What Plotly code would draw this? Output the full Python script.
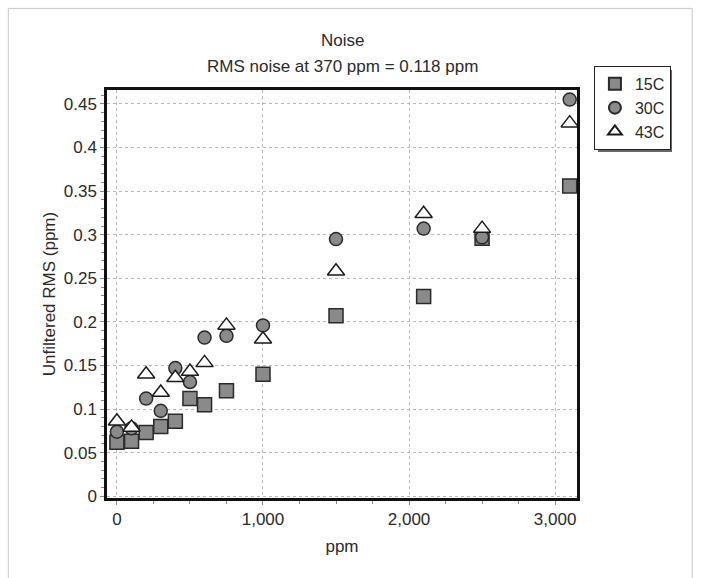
import plotly.graph_objects as go

x15 = [0, 100, 200, 300, 400, 500, 600, 750, 1000, 1500, 2100, 2500, 3100]
y15 = [0.062, 0.063, 0.073, 0.080, 0.086, 0.112, 0.105, 0.121, 0.140, 0.207, 0.229, 0.296, 0.356]

x30 = [0, 100, 200, 300, 400, 500, 600, 750, 1000, 1500, 2100, 2500, 3100]
y30 = [0.074, 0.078, 0.112, 0.098, 0.147, 0.131, 0.182, 0.184, 0.196, 0.295, 0.307, 0.297, 0.455]

x43 = [0, 100, 200, 300, 400, 500, 600, 750, 1000, 1500, 2100, 2500, 3100]
y43 = [0.086, 0.079, 0.140, 0.119, 0.136, 0.143, 0.153, 0.196, 0.180, 0.258, 0.324, 0.307, 0.428]

series_names = ["15C", "30C", "43C"]
title_main = "Noise"
title_sub = "RMS noise at 370 ppm = 0.118 ppm"
x_title = "ppm"
y_title = "Unfiltered RMS (ppm)"

fig = go.Figure()
fig.add_trace(go.Scatter(x=x15, y=y15, mode="markers", name=series_names[0],
                         marker=dict(symbol="square", size=14, color="#8a8a8a",
                                     line=dict(color="#2a2a2a", width=1.5))))
fig.add_trace(go.Scatter(x=x30, y=y30, mode="markers", name=series_names[1],
                         marker=dict(symbol="circle", size=13, color="#8a8a8a",
                                     line=dict(color="#2a2a2a", width=1.5))))
fig.add_trace(go.Scatter(x=x43, y=y43, mode="markers", name=series_names[2],
                         marker=dict(symbol="triangle-up", size=15, color="white",
                                     line=dict(color="#1a1a1a", width=1.5))))

font = "Liberation Sans, Arial, sans-serif"
fs = 17
fig.update_layout(
    width=705, height=578,
    margin=dict(l=107, r=128, t=90, b=80),
    paper_bgcolor="white", plot_bgcolor="white",
    font=dict(family=font, size=fs, color="#2a2a2a"),
    showlegend=True,
    legend=dict(x=1.036, y=1.059, xanchor="left", yanchor="top",
                bordercolor="#222222", borderwidth=1, bgcolor="white",
                font=dict(size=16, color="#2a2a2a"), itemsizing="constant",
                tracegroupgap=0),
    xaxis=dict(range=[-68, 3150], tickvals=[0, 1000, 2000, 3000],
               tickformat=",d", showgrid=True, gridcolor="#b8b8b8", griddash="dot",
               gridwidth=1, zeroline=False, showline=True, linecolor="#111111",
               linewidth=2.5, mirror=True, ticks="outside", ticklen=4,
               tickcolor="#888888", tickfont=dict(size=fs),
               minor=dict(dtick=250, ticks="outside", ticklen=3, tickcolor="#888888",
                          showgrid=False),
               title=dict(text=x_title, font=dict(size=fs), standoff=12)),
    yaxis=dict(range=[-0.002, 0.466], dtick=0.05, tick0=0,
               showgrid=True, gridcolor="#b8b8b8", griddash="dot",
               gridwidth=1, zeroline=False, showline=True, linecolor="#111111",
               linewidth=2.5, mirror=True, ticks="outside", ticklen=4,
               tickcolor="#888888", tickfont=dict(size=fs),
               minor=dict(dtick=0.01, ticks="outside", ticklen=3, tickcolor="#888888",
                          showgrid=False),
               title=dict(text=y_title, font=dict(size=fs), standoff=4)),
    annotations=[
        dict(text=title_main, x=0.5, y=1.0, xref="paper", yref="paper",
             yanchor="middle", yshift=50, showarrow=False,
             font=dict(size=fs, color="#2a2a2a")),
        dict(text=title_sub, x=0.5, y=1.0, xref="paper", yref="paper",
             yanchor="middle", yshift=24, showarrow=False,
             font=dict(size=fs, color="#2a2a2a")),
    ],
    shapes=[
        dict(type="rect", xref="paper", yref="paper", x0=-0.21, x1=1.245,
             y0=-0.2, y1=1.2, line=dict(color="#c8c8c8", width=1), layer="below"),
        dict(type="rect", xref="paper", yref="paper",
             x0=(598 - 107) / 470, x1=(672 - 107) / 470,
             y0=(498 - 152) / 408, y1=(498 - 70) / 408,
             line=dict(width=0), fillcolor="#666666", layer="below"),
    ],
)

fig.write_html("out.html")
